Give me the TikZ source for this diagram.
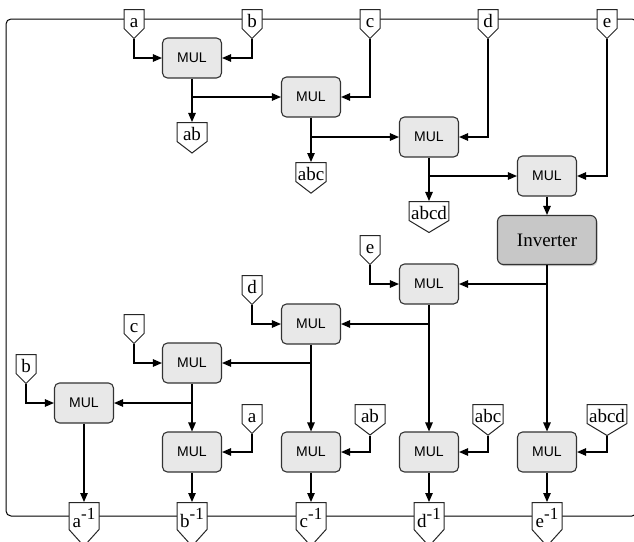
\documentclass[tikz,border=0pt]{standalone}
\usepackage{fontspec}
\setmainfont{Liberation Serif}
\setsansfont{Liberation Sans}
\usetikzlibrary{positioning,shadows,arrows.meta,shapes.symbols}

\begin{document}
\begin{tikzpicture}[x=1pt, y=-1pt, line width=1.1pt,
    >={Triangle[length=9pt,width=7.5pt]},
    mul/.style={rectangle, draw=black!80, rounded corners=5pt, fill=black!9,
        minimum width=59pt, minimum height=40pt, inner sep=0pt,
        font=\sffamily\fontsize{14}{14}\selectfont},
    inverter/.style={rectangle, draw=black!80, rounded corners=6pt, fill=black!22,
        drop shadow={shadow xshift=1pt, shadow yshift=-1.5pt, opacity=0.4},
        minimum width=99pt, minimum height=49pt,
        font=\fontsize{19}{19}\selectfont},
    tag/.style={signal, signal to=south, signal from=nowhere, draw=black!85,
        fill=white, line width=1pt, anchor=north, inner xsep=2pt, inner ysep=1.5pt,
        text height=16pt, text depth=-1pt, font=\fontsize{19}{19}\selectfont},
    vartag/.style={tag, minimum width=20pt, signal pointer angle=90},
    prodtag/.style={tag, minimum width=30pt, signal pointer angle=105},
    widetag/.style={prodtag, signal pointer angle=118},
    invtag/.style={tag, minimum width=30pt, signal pointer angle=84,
        text height=23pt, text depth=-6pt, inner ysep=2pt}
]
\newcommand{\inv}[1]{#1\raisebox{0.42em}{\fontsize{17}{17}\selectfont -1}}
\useasboundingbox (0,0) rectangle (634,541);
\clip (0,0) rectangle (634,541);

\draw[rounded corners=5pt, line width=1pt] (6,19) rectangle (637,516);

% forward products
\node (I1) [vartag] at (134,9) {a};
\node (I2) [vartag] at (252,9) {b};
\node (I3) [vartag] at (370,9) {c};
\node (I4) [vartag] at (488,9) {d};
\node (I5) [vartag] at (607,9) {e};

\node (M1) [mul] at (192,58) {MUL};
\node (M2) [mul] at (311,97) {MUL};
\node (M3) [mul] at (429,137) {MUL};
\node (M4) [mul] at (547,176) {MUL};
\node (INV) [inverter] at (547,240) {Inverter};

\node (P1) [prodtag] at (192,122) {ab};
\node (P2) [prodtag] at (311,162) {abc};
\node (P3) [widetag] at (429,201) {abcd};

% backward products
\node (M5) [mul] at (429,284) {MUL};
\node (M6) [mul] at (311,324) {MUL};
\node (M7) [mul] at (192,363) {MUL};
\node (M8) [mul] at (84,403) {MUL};

\node (L5) [vartag] at (370,235) {e};
\node (L4) [vartag] at (252,275) {d};
\node (L3) [vartag] at (134,314) {c};
\node (L2) [vartag] at (26,354) {b};

\node (N2) [mul] at (192,452) {MUL};
\node (N3) [mul] at (311,452) {MUL};
\node (N4) [mul] at (429,452) {MUL};
\node (N5) [mul] at (547,452) {MUL};

\node (Q1) [vartag] at (252,404) {a};
\node (Q2) [prodtag] at (370,404) {ab};
\node (Q3) [prodtag] at (488,404) {abc};
\node (Q4) [widetag] at (607,404) {abcd};

\node (O1) [invtag] at (84,502) {\inv{a}};
\node (O2) [invtag] at (192,502) {\inv{b}};
\node (O3) [invtag] at (311,502) {\inv{c}};
\node (O4) [invtag] at (429,502) {\inv{d}};
\node (O5) [invtag] at (547,502) {\inv{e}};

\draw[->] (I1.south) |- (M1.west);
\draw[->] (I2.south) |- (M1.east);
\draw[->] (M1) -- (P1);
\draw[->] (M1 |- M2) -- (M2.west);
\draw[->] (I3.south) |- (M2.east);
\draw[->] (M2) -- (P2);
\draw[->] (M2 |- M3) -- (M3.west);
\draw[->] (I4.south) |- (M3.east);
\draw[->] (M3) -- (P3);
\draw[->] (M3 |- M4) -- (M4.west);
\draw[->] (I5.south) |- (M4.east);
\draw[->] (M4) -- (INV);

\draw[->] (INV) -- (N5);
\draw[->] (INV |- M5) -- (M5.east);
\draw[->] (L5.south) |- (M5.west);
\draw[->] (M5) -- (N4);
\draw[->] (M5 |- M6) -- (M6.east);
\draw[->] (L4.south) |- (M6.west);
\draw[->] (M6) -- (N3);
\draw[->] (M6 |- M7) -- (M7.east);
\draw[->] (L3.south) |- (M7.west);
\draw[->] (M7) -- (N2);
\draw[->] (M7 |- M8) -- (M8.east);
\draw[->] (L2.south) |- (M8.west);
\draw[->] (M8) -- (O1);

\draw[->] (Q1.south) |- (N2.east);
\draw[->] (Q2.south) |- (N3.east);
\draw[->] (Q3.south) |- (N4.east);
\draw[->] (Q4.south) |- (N5.east);
\draw[->] (N2) -- (O2);
\draw[->] (N3) -- (O3);
\draw[->] (N4) -- (O4);
\draw[->] (N5) -- (O5);
\end{tikzpicture}
\end{document}
